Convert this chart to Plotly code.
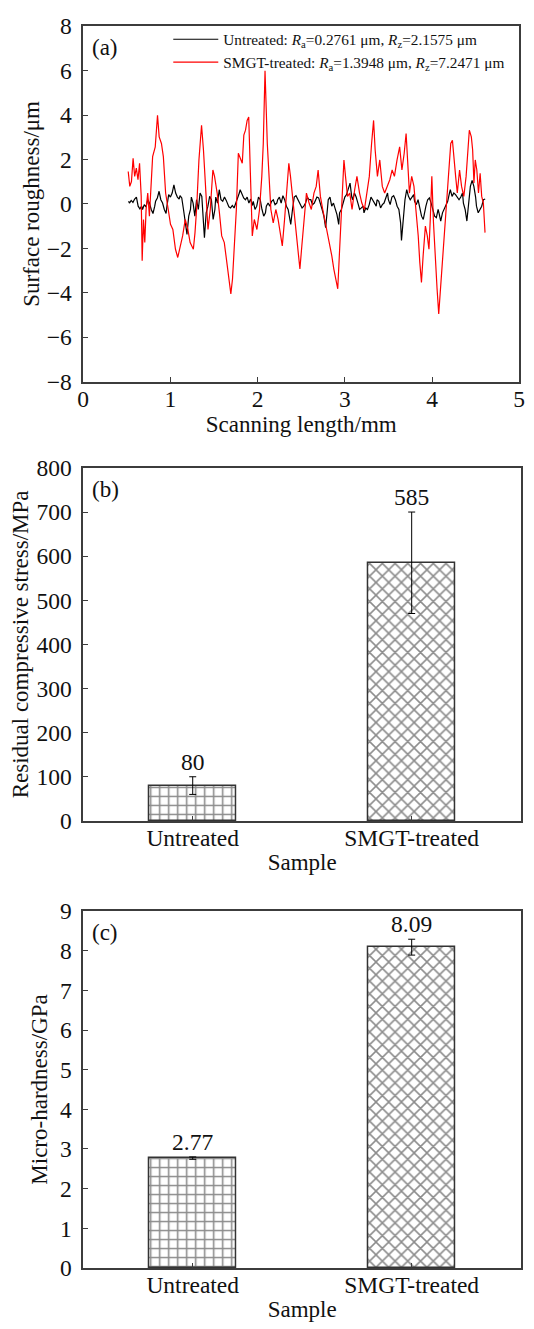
import plotly.graph_objects as go

# ---------------- Panel (a): surface roughness profiles ----------------
untreated_x = [
    0.52, 0.53, 0.55, 0.57, 0.59, 0.61, 0.63, 0.65, 0.67, 0.68,
    0.70, 0.72, 0.74, 0.76, 0.78, 0.80, 0.82, 0.83, 0.85, 0.87,
    0.89, 0.91, 0.93, 0.95, 0.96, 0.98, 1.00, 1.02, 1.04, 1.06,
    1.08, 1.10, 1.11, 1.13, 1.15, 1.17, 1.19, 1.21, 1.23, 1.24,
    1.26, 1.28, 1.30, 1.32, 1.34, 1.36, 1.38, 1.39, 1.41, 1.43,
    1.45, 1.47, 1.49, 1.51, 1.52, 1.54, 1.56, 1.58, 1.60, 1.62,
    1.64, 1.66, 1.67, 1.69, 1.71, 1.73, 1.75, 1.77, 1.79, 1.80,
    1.82, 1.84, 1.86, 1.88, 1.90, 1.92, 1.94, 1.95, 1.97, 1.99,
    2.01, 2.03, 2.05, 2.07, 2.09, 2.10, 2.12, 2.14, 2.16, 2.18,
    2.20, 2.22, 2.23, 2.25, 2.27, 2.29, 2.31, 2.33, 2.35, 2.37,
    2.38, 2.40, 2.42, 2.44, 2.46, 2.48, 2.50, 2.51, 2.53, 2.55,
    2.57, 2.59, 2.61, 2.63, 2.65, 2.66, 2.68, 2.70, 2.72, 2.74,
    2.76, 2.78, 2.80, 2.81, 2.83, 2.85, 2.87, 2.89, 2.91, 2.93,
    2.94, 2.96, 2.98, 3.00, 3.02, 3.04, 3.06, 3.08, 3.09, 3.11,
    3.13, 3.15, 3.17, 3.19, 3.21, 3.22, 3.24, 3.26, 3.28, 3.30,
    3.32, 3.34, 3.36, 3.37, 3.39, 3.41, 3.43, 3.45, 3.47, 3.49,
    3.50, 3.52, 3.54, 3.56, 3.58, 3.60, 3.62, 3.64, 3.65, 3.67,
    3.69, 3.71, 3.73, 3.75, 3.77, 3.79, 3.80, 3.82, 3.84, 3.86,
    3.88, 3.90, 3.92, 3.93, 3.95, 3.97, 3.99, 4.01, 4.03, 4.05,
    4.07, 4.08, 4.10, 4.12, 4.14, 4.16, 4.18, 4.20, 4.21, 4.23,
    4.25, 4.27, 4.29, 4.31, 4.33, 4.35, 4.36, 4.38, 4.40, 4.42,
    4.44, 4.46, 4.48, 4.50, 4.51, 4.53, 4.55, 4.57, 4.59, 4.61,
]
untreated_y = [
    0.12, 0.04, 0.16, 0.07, 0.22, 0.31, -0.10, -0.22, -0.10, -0.25,
    -0.03, -0.13, 0.19, 0.04, -0.25, -0.43, -0.10, 0.12, 0.27, 0.57,
    0.19, 0.04, -0.25, -0.43, -0.10, 0.42, 0.31, 0.49, 0.86, 0.49,
    0.31, 0.22, 0.37, 0.27, -0.25, -0.85, -1.37, -0.55, -0.25, 0.31,
    0.04, -0.55, 0.19, -0.25, 0.49, 0.34, -0.70, -1.52, -0.40, -0.10,
    0.34, 0.19, -0.70, -0.25, 0.31, 0.04, 0.64, 0.19, 0.12, 0.31,
    0.16, -0.03, -0.13, -0.18, -0.07, -0.18, 0.04, 0.19, 0.49, 0.64,
    0.42, 0.27, 0.19, 0.31, 0.04, 0.22, -0.07, 0.12, -0.25, -0.10,
    0.31, 0.19, -0.25, -0.55, -0.40, -0.10, 0.04, -0.10, 0.12, 0.19,
    -0.03, 0.04, 0.19, 0.31, 0.04, 0.37, 0.19, -0.10, -0.25, -0.70,
    -0.92, -0.25, 0.31, 0.37, 0.19, 0.04, -0.10, -0.18, -0.10, 0.04,
    0.31, 0.19, 0.19, -0.03, 0.04, 0.12, 0.31, 0.27, 0.04, -0.25,
    -0.55, -1.07, -0.25, 0.19, 0.31, -0.10, 0.04, -0.25, -0.48, -0.92,
    -0.40, -0.25, 0.04, 0.31, 0.42, 0.64, 0.94, 0.31, 0.19, 0.49,
    0.31, 0.04, -0.25, -0.18, -0.10, -0.40, -0.18, -0.25, -0.03, 0.31,
    0.19, 0.04, -0.10, 0.19, 0.12, -0.18, -0.03, 0.04, 0.31, 0.49,
    0.19, -0.03, 0.31, 0.37, 0.19, -0.10, -0.25, -0.85, -1.64, -0.55,
    0.19, 0.64, 0.34, 0.19, 0.31, 0.42, 0.12, -0.03, 0.19, -0.25,
    -0.55, -0.70, -0.25, -0.10, 0.19, 0.27, 0.04, -0.25, -0.55, -0.62,
    -0.25, -0.40, -0.77, -0.40, -0.25, -0.10, 0.12, 0.49, 0.64, 0.34,
    0.49, 0.42, 0.31, 0.19, 0.31, 0.49, 0.04, -0.25, -0.77, 0.19,
    0.79, 1.06, 0.79, 0.31, -0.10, -0.40, -0.25, -0.10, 0.19, 0.22,
]

treated_x = [
    0.516, 0.534, 0.553, 0.572, 0.590, 0.609, 0.628, 0.646, 0.665, 0.676,
    0.691, 0.706, 0.721, 0.740, 0.759, 0.777, 0.796, 0.826, 0.852, 0.871,
    0.897, 0.919, 0.945, 0.975, 1.001, 1.028, 1.058, 1.084, 1.114, 1.140,
    1.170, 1.200, 1.226, 1.263, 1.282, 1.300, 1.327, 1.357, 1.379, 1.401,
    1.431, 1.457, 1.487, 1.506, 1.536, 1.562, 1.588, 1.618, 1.648, 1.674,
    1.693, 1.712, 1.730, 1.756, 1.779, 1.805, 1.824, 1.842, 1.861, 1.880,
    1.898, 1.917, 1.939, 1.962, 1.992, 2.022, 2.048, 2.065, 2.085, 2.111,
    2.134, 2.152, 2.179, 2.209, 2.235, 2.261, 2.283, 2.309, 2.336, 2.358,
    2.377, 2.403, 2.433, 2.459, 2.485, 2.507, 2.534, 2.560, 2.590, 2.616,
    2.646, 2.672, 2.694, 2.720, 2.747, 2.777, 2.806, 2.833, 2.851, 2.874,
    2.896, 2.919, 2.937, 2.956, 2.975, 2.990, 3.008, 3.031, 3.057, 3.083,
    3.113, 3.139, 3.169, 3.195, 3.225, 3.255, 3.281, 3.307, 3.330, 3.348,
    3.374, 3.401, 3.430, 3.457, 3.487, 3.516, 3.543, 3.569, 3.599, 3.629,
    3.655, 3.681, 3.703, 3.722, 3.741, 3.767, 3.793, 3.815, 3.842, 3.860,
    3.879, 3.898, 3.924, 3.946, 3.965, 3.980, 3.998, 4.017, 4.040, 4.058,
    4.077, 4.103, 4.122, 4.148, 4.170, 4.197, 4.215, 4.234, 4.253, 4.271,
    4.290, 4.316, 4.339, 4.365, 4.391, 4.413, 4.428, 4.451, 4.466, 4.481,
    4.496, 4.514, 4.533, 4.552, 4.570, 4.589, 4.608,
]
treated_y = [
    1.46, 0.79, 1.01, 2.05, 1.24, 1.61, 1.09, 1.83, 0.34, -2.56,
    -0.70, -1.74, -0.25, 0.49, -0.55, 1.09, 2.13, 2.57, 3.99, 3.02,
    2.72, 2.13, 0.49, -0.25, -0.92, -1.15, -2.04, -2.41, -1.89, -1.44,
    -0.70, -1.15, -1.74, -2.04, -1.29, -0.25, 1.98, 3.54, 2.43, 0.94,
    -1.15, -0.25, 1.53, 1.24, 0.49, -0.40, -1.44, -1.74, -2.78, -3.53,
    -4.05, -3.38, -2.04, -0.25, 2.28, 2.05, 1.83, 3.10, 3.32, 3.76,
    3.91, 1.38, -1.44, -0.70, -1.15, -0.25, 1.24, 2.72, 6.00, 2.72,
    1.24, -0.25, -0.85, -0.25, -0.70, -1.29, -1.89, -0.70, 0.49, 1.83,
    1.24, 0.19, -1.15, -2.04, -2.93, -1.89, -0.70, 0.49, 0.04, -0.25,
    0.49, 0.79, 1.53, 0.34, -0.25, -0.85, -1.44, -1.89, -2.34, -2.93,
    -3.38, -3.82, -2.34, -0.70, 1.24, 1.98, 1.24, 0.34, 0.49, -0.25,
    0.64, 1.24, 0.49, 0.04, -0.25, 0.49, 1.24, 2.72, 3.76, 2.43,
    1.24, 1.98, 0.79, 0.49, 0.79, 1.09, 1.53, 1.24, 1.98, 2.57,
    1.53, 2.28, 3.17, 1.98, 0.49, 1.24, 0.79, -0.25, -1.44, -2.63,
    -3.53, -2.34, -1.00, -1.44, -2.04, -0.70, 1.24, -0.85, -2.93, -3.82,
    -4.95, -3.53, -2.49, -1.00, 0.19, 1.53, 2.72, 2.87, 1.83, 1.24,
    0.49, 1.53, 0.79, 0.34, 1.24, 2.72, 3.32, 3.02, 2.43, 0.94,
    1.98, 1.53, 0.49, 1.38, 0.34, 0.04, -1.29,
]
assert len(untreated_x) == len(untreated_y)
assert len(treated_x) == len(treated_y)

legend_untreated = "Untreated: <i>R</i><sub>a</sub>=0.2761 μm, <i>R</i><sub>z</sub>=2.1575 μm"
legend_treated = "SMGT-treated: <i>R</i><sub>a</sub>=1.3948 μm, <i>R</i><sub>z</sub>=7.2471 μm"

# ---------------- Panels (b) and (c): bar charts ----------------
samples = ["Untreated", "SMGT-treated"]
stress = [80, 585]
stress_err = [20, 115]
stress_labels = ["80", "585"]
hardness = [2.77, 8.09]
hardness_err = [0.03, 0.20]
hardness_labels = ["2.77", "8.09"]
patterns = ["+", "x"]

FONT = "Liberation Serif, Times New Roman, serif"
TICK = 23.5
TITLE = 23
AXC = "#3c3c3c"
TXT = "#111111"

W, H = 534, 1329
def px_x(a, b):
    return [a / W, b / W]
def px_y(top, bottom):
    return [1 - bottom / H, 1 - top / H]

fig = go.Figure()
fig.add_trace(go.Scatter(x=untreated_x, y=untreated_y, mode="lines",
                         line=dict(color="black", width=1.2),
                         name=legend_untreated, xaxis="x", yaxis="y"))
fig.add_trace(go.Scatter(x=treated_x, y=treated_y, mode="lines",
                         line=dict(color="#ff0000", width=1.2),
                         name=legend_treated, xaxis="x", yaxis="y"))

bar_common = dict(
    width=0.4,
    showlegend=False,
    marker=dict(color="white", line=dict(color="#333333", width=1.5),
                pattern=dict(shape=patterns, size=9, solidity=0.32,
                             fgcolor="#1a1a1a", bgcolor="white")),
)
fig.add_trace(go.Bar(x=samples, y=stress, xaxis="x2", yaxis="y2",
                     error_y=dict(type="data", array=stress_err, color="black",
                                  thickness=1, width=3.5),
                     **bar_common))
fig.add_trace(go.Bar(x=samples, y=hardness, xaxis="x3", yaxis="y3",
                     error_y=dict(type="data", array=hardness_err, color="black",
                                  thickness=1, width=3.5),
                     **bar_common))

axis_common = dict(showline=True, linecolor=AXC, linewidth=1.5, mirror=True,
                   ticks="inside", ticklen=5, tickwidth=1, tickcolor=AXC,
                   showgrid=False, zeroline=False,
                   tickfont=dict(family=FONT, size=TICK, color=TXT))
xaxis_common = dict(axis_common, ticklabelstandoff=-5)
yaxis_common = dict(axis_common, ticklabelstandoff=5)
title_font = dict(family=FONT, size=TITLE, color=TXT)

fig.update_layout(
    width=W, height=H,
    margin=dict(l=0, r=0, t=0, b=0),
    paper_bgcolor="white", plot_bgcolor="white",
    font=dict(family=FONT, color=TXT),
    bargap=0,
    xaxis=dict(domain=px_x(79, 525), anchor="y", range=[0, 5], dtick=1,
               title=dict(text="Scanning length/mm", font=title_font, standoff=4),
               **xaxis_common),
    yaxis=dict(domain=px_y(13.5, 376), anchor="x", range=[-8, 8], dtick=2,
               title=dict(text="Surface roughness/μm", font=title_font, standoff=1),
               **yaxis_common),
    xaxis2=dict(domain=px_x(79, 527), anchor="y2", type="category", range=[-0.5, 1.5],
                title=dict(text="Sample", font=title_font, standoff=4),
                **xaxis_common),
    yaxis2=dict(domain=px_y(464, 824), anchor="x2", range=[0, 800], dtick=100,
                title=dict(text="Residual compressive stress/MPa", font=title_font, standoff=1),
                **yaxis_common),
    xaxis3=dict(domain=px_x(79, 527), anchor="y3", type="category", range=[-0.5, 1.5],
                title=dict(text="Sample", font=title_font, standoff=4),
                **xaxis_common),
    yaxis3=dict(domain=px_y(916, 1280), anchor="x3", range=[0, 9], dtick=1,
                title=dict(text="Micro-hardness/GPa", font=title_font, standoff=6),
                **yaxis_common),
    legend=dict(x=166 / W, y=1 - 10 / H, xanchor="left", yanchor="top",
                bgcolor="rgba(0,0,0,0)", borderwidth=0,
                font=dict(family=FONT, size=15.3, color=TXT),
                itemwidth=45, tracegroupgap=0),
)

# panel letters
for ax, letter in [("", "(a)"), ("2", "(b)"), ("3", "(c)")]:
    fig.add_annotation(x=0, y=1, xref=f"x{ax} domain", yref=f"y{ax} domain",
                       text=letter, showarrow=False, xanchor="left", yanchor="top",
                       xshift=7, yshift=-7, font=dict(family=FONT, size=TITLE, color=TXT))

# value labels above the bars
for s, v, e, t in zip(samples, stress, stress_err, stress_labels):
    fig.add_annotation(x=s, y=v + e, xref="x2", yref="y2", text=t, showarrow=False,
                       yanchor="bottom", yshift=0,
                       font=dict(family=FONT, size=TICK, color=TXT))
for s, v, e, t in zip(samples, hardness, hardness_err, hardness_labels):
    fig.add_annotation(x=s, y=v + e, xref="x3", yref="y3", text=t, showarrow=False,
                       yanchor="bottom", yshift=0,
                       font=dict(family=FONT, size=TICK, color=TXT))

fig.write_html("out.html")
